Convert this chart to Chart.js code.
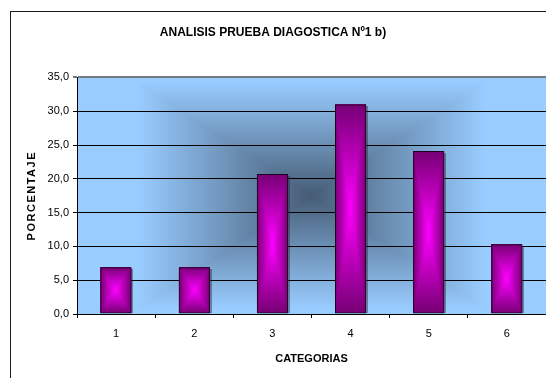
<!DOCTYPE html>
<html>
<head>
<meta charset="utf-8">
<script src="https://cdn.jsdelivr.net/npm/chart.js@4/dist/chart.umd.min.js"></script>
<style>
  html, body { margin: 0; padding: 0; background: #ffffff; }
  canvas { display: block; }
</style>
</head>
<body>
<canvas id="chart" width="546" height="378"></canvas>
<script>
// Category labels and percentage per category
const categorias = ['1', '2', '3', '4', '5', '6'];
const porcentajes = [6.9, 6.9, 20.7, 31.0, 24.1, 10.3];

// Value axis ticks and their printed labels
const yTicks = [0, 5, 10, 15, 20, 25, 30, 35];
const yTickLabels = ['0,0', '5,0', '10,0', '15,0', '20,0', '25,0', '30,0', '35,0'];

const chartTitle = 'ANALISIS PRUEBA DIAGOSTICA Nº1 b)';
const xTitle = 'CATEGORIAS';
const yTitle = 'PORCENTAJE';

const FONT = "'Liberation Sans', Arial, sans-serif";

// Builds an offscreen canvas filled with a "from centre" rectangular gradient;
// rx / ry set how far (as a share of the half size) the fade runs on each axis
function rectGradientCanvas(w, h, inner, outer, rx, ry) {
  const c = document.createElement('canvas');
  c.width = Math.max(1, w); c.height = Math.max(1, h);
  const g = c.getContext('2d');
  const img = g.createImageData(c.width, c.height);
  const hw = c.width / 2, hh = c.height / 2;
  for (let y = 0; y < c.height; y++) {
    for (let x = 0; x < c.width; x++) {
      const dx = Math.abs(x + 0.5 - hw) / hw / rx;
      const dy = Math.abs(y + 0.5 - hh) / hh / ry;
      let t = Math.max(dx, dy);
      if (t > 1) t = 1;
      const i = (y * c.width + x) * 4;
      img.data[i]     = inner[0] + (outer[0] - inner[0]) * t;
      img.data[i + 1] = inner[1] + (outer[1] - inner[1]) * t;
      img.data[i + 2] = inner[2] + (outer[2] - inner[2]) * t;
      img.data[i + 3] = 255;
    }
  }
  g.putImageData(img, 0, 0);
  return c;
}

const decor = {
  id: 'decor',
  beforeDraw(chart) {
    const ctx = chart.ctx;
    const a = chart.chartArea;
    ctx.save();
    ctx.fillStyle = '#ffffff';
    ctx.fillRect(0, 0, chart.width, chart.height);
    // outer frame of the chart
    ctx.strokeStyle = '#1a1a1a';
    ctx.lineWidth = 1;
    ctx.strokeRect(10.5, 11.5, chart.width + 20, chart.height + 20);
    // plot area background
    const l = Math.round(a.left), t = Math.round(a.top);
    const w = Math.round(a.right) - l, h = Math.round(a.bottom) - t;
    const bg = rectGradientCanvas(w, h, [70, 92, 118], [153, 204, 255], 0.74, 0.95);
    ctx.drawImage(bg, l, t);
    ctx.restore();

    // spaced lettering for the value axis title
    const ys = chart.scales.y;
    if (ys && !ys._spacedTitle) {
      const orig = ys.drawTitle.bind(ys);
      ys.drawTitle = function () {
        const c = this.ctx;
        const prev = c.letterSpacing;
        c.letterSpacing = '1.5px';
        orig();
        c.letterSpacing = prev;
      };
      ys._spacedTitle = true;
    }
  },
  beforeDatasetsDraw(chart) {
    const ctx = chart.ctx;
    const meta = chart.getDatasetMeta(0);
    ctx.save();
    meta.data.forEach((bar) => {
      const p = bar.getProps(['x', 'y', 'base', 'width'], true);
      const left = Math.round(p.x - p.width / 2);
      const top = Math.round(Math.min(p.y, p.base));
      const w = Math.round(p.width);
      const h = Math.round(Math.abs(p.base - p.y));
      // soft drop shadow
      ctx.fillStyle = 'rgba(40,40,60,0.45)';
      ctx.fillRect(left + 2, top + 2, w, h - 2);
      const fill = rectGradientCanvas(w, h, [255, 0, 255], [118, 0, 116], 1, 1);
      ctx.drawImage(fill, left, top);
    });
    ctx.restore();
  }
};

new Chart(document.getElementById('chart'), {
  type: 'bar',
  data: {
    labels: categorias,
    datasets: [{
      data: porcentajes,
      backgroundColor: 'rgba(0,0,0,0)',
      borderColor: '#1a001a',
      borderWidth: 1,
      borderSkipped: false,
      barPercentage: 1,
      categoryPercentage: 0.4
    }]
  },
  options: {
    responsive: false,
    animation: false,
    events: [],
    layout: { padding: { left: 0, right: 0, top: 0, bottom: 0 } },
    plugins: {
      legend: { display: false },
      tooltip: { enabled: false },
      title: {
        display: true,
        text: chartTitle,
        color: '#000',
        font: { family: FONT, size: 12, weight: 'bold' },
        padding: { top: 25, bottom: 38 }
      }
    },
    scales: {
      x: {
        type: 'category',
        offset: true,
        grid: {
          display: true,
          drawOnChartArea: false,
          drawTicks: true,
          tickLength: 4,
          color: '#000',
          offset: true
        },
        border: { display: true, color: '#000', width: 1 },
        ticks: {
          color: '#000',
          font: { family: FONT, size: 11 },
          padding: 9,
          maxRotation: 0,
          autoSkip: false
        },
        title: {
          display: true,
          text: xTitle,
          color: '#000',
          font: { family: FONT, size: 11, weight: 'bold' },
          padding: { top: 0, bottom: 12 }
        },
        afterFit(scale) { scale.height = 64; }
      },
      y: {
        min: yTicks[0],
        max: yTicks[yTicks.length - 1],
        afterBuildTicks(scale) { scale.ticks = yTicks.map(v => ({ value: v })); },
        grid: {
          color: (c) => (c.tick && c.tick.value === yTicks[yTicks.length - 1]) ? '#6f7c84' : '#000',
          lineWidth: (c) => (c.tick && c.tick.value === yTicks[yTicks.length - 1]) ? 2 : 1,
          tickLength: 4,
          drawTicks: true
        },
        border: { display: true, color: '#000', width: 1 },
        ticks: {
          color: '#000',
          font: { family: FONT, size: 11 },
          padding: 4,
          callback: (v, i) => yTickLabels[yTicks.indexOf(v)]
        },
        title: {
          display: true,
          text: yTitle,
          color: '#000',
          font: { family: FONT, size: 11, weight: 'bold' },
          padding: { top: 25, bottom: 0 }
        },
        afterFit(scale) { scale.width = 77; }
      }
    }
  },
  plugins: [decor]
});
</script>
</body>
</html>
